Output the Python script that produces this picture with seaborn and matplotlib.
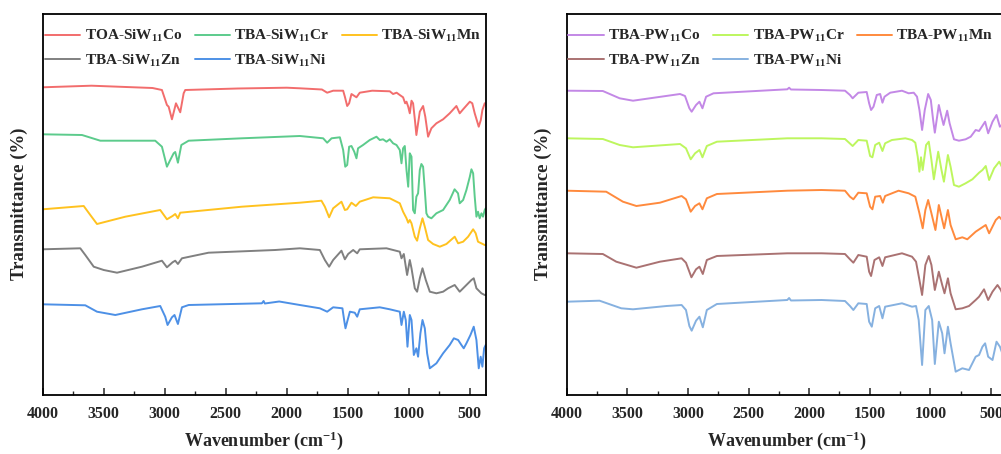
import matplotlib
matplotlib.use("Agg")
import matplotlib.pyplot as plt
from matplotlib.ticker import MultipleLocator
import seaborn as sns
import pandas as pd

# ---------------- data (wavenumber cm-1, transmittance a.u. incl. offset) ----------------
tick_values = [4000, 3500, 3000, 2500, 2000, 1500, 1000, 500]

sw_co = [(4000,307.7),(3600,309.3),(3100,307),(3023,305),(2982,290),(2968,288.3),(2941,275.7),(2908,291.7),(2873,282.7),(2845,301.7),(2832,305),(2400,306.5),(2000,307.3),(1893,306.7),(1712,305.5),(1669,302.3),(1620,304.3),(1538,304.3),(1524,298.3),(1505,289),(1489,291.7),(1470,301),(1429,297.7),(1402,302.3),(1300,304.3),(1156,303.7),(1129,301),(1100,302.3),(1074,300),(1047,297.7),(1030,291.7),(1019,293.3),(1005,288.3),(992,281.7),(978,294.3),(965,291.7),(950,275),(938,260),(924,271.7),(910,283.3),(883,289),(865,278.3),(842,258.3),(815,266.7),(774,271.7),(719,275.7),(665,281.7),(610,289),(583,281.7),(555,285.7),(500,293.3),(480,291.7),(460,281.7),(427,268.3),(410,275),(397,285),(378,291.7),(370,291.7)]
sw_cr = [(4000,260.7),(3678,260),(3528,254.3),(3078,254.3),(3023,248.3),(2982,228.3),(2955,235),(2927,241.7),(2914,243),(2892,232.3),(2864,250),(2804,254.3),(2368,256.7),(1893,259),(1702,256.7),(1669,252.3),(1633,256.7),(1565,257.7),(1538,245),(1521,228.3),(1505,230),(1489,248.3),(1470,249),(1447,243.3),(1429,236.7),(1416,246.7),(1375,250),(1320,255),(1265,258.3),(1238,255),(1211,255.7),(1183,253.3),(1156,255.7),(1129,251.7),(1101,250),(1074,245),(1060,231.7),(1047,246.7),(1033,249),(1019,225),(1005,208.3),(992,241.7),(978,238.3),(965,185),(951,181.7),(938,198.3),(924,201.7),(910,225),(897,231),(883,228.3),(869,205),(856,181.7),(842,178.3),(815,176.7),(774,181.7),(719,185),(665,195),(625,205.7),(597,201.7),(583,191.7),(555,195),(528,205),(500,218.3),(487,225.7),(473,221.7),(460,198.3),(446,178.3),(433,183.3),(419,176.7),(405,181.7),(392,178.3),(378,185),(370,186.7)]
sw_mn = [(4000,185.7),(3664,189),(3610,180),(3555,171),(3323,178.3),(3037,185),(2982,175.7),(2936,179),(2914,181),(2892,176.7),(2873,182.3),(2368,188.3),(1893,192.3),(1716,194.3),(1688,188.3),(1653,177.7),(1620,186.7),(1552,193.3),(1524,185),(1505,185.7),(1470,192.3),(1434,189),(1402,193.3),(1292,197.7),(1156,196.7),(1074,191.7),(1047,183.3),(1019,176.7),(1005,172.3),(992,175),(978,171.7),(951,158.3),(932,154.3),(910,166.7),(888,176.7),(869,168.3),(842,155),(801,151),(746,148.3),(692,151),(624,158.3),(596,151.7),(555,153.3),(514,158.3),(473,165.7),(452,161.7),(433,153.3),(378,150),(370,150)]
sw_zn = [(4000,145.7),(3692,146.7),(3651,140),(3582,128.3),(3500,125),(3391,122.3),(3187,128.3),(3023,134.3),(2982,127.7),(2936,132.7),(2914,134.3),(2892,131),(2859,136.7),(2641,142.3),(2095,145),(1893,146.7),(1729,145),(1688,135),(1653,128.3),(1620,135),(1552,144.3),(1524,135.7),(1497,141),(1456,145),(1423,141.7),(1402,145.7),(1183,146.7),(1074,143.3),(1060,136.7),(1041,141),(1014,120),(992,135),(978,126.7),(951,106.7),(932,103.3),(910,116.7),(888,126.7),(861,115),(828,103.3),(774,101.7),(719,103.3),(678,106.7),(624,110),(583,103.3),(542,108.3),(487,115),(468,116.7),(446,106.7),(405,101.7),(378,100),(370,100)]
sw_ni = [(4000,90.7),(3651,89.7),(3555,83.3),(3405,80),(3187,85.7),(3037,89),(2996,78.3),(2977,70),(2941,77.7),(2920,80),(2892,71),(2859,87.7),(2804,90),(2204,91.7),(2190,94),(2180,91.5),(2062,93.5),(1893,90),(1729,86.7),(1669,83.3),(1620,87.7),(1544,86.7),(1530,75),(1519,66.7),(1505,73.3),(1483,83.3),(1443,82.3),(1423,78.3),(1402,85.7),(1238,87.7),(1156,85.7),(1074,83.3),(1060,70),(1041,83.3),(1025,75),(1011,48.3),(992,80),(978,75),(959,40),(938,46.7),(924,38.3),(905,61.7),(888,75),(869,66.7),(850,41.7),(828,26.7),(774,31.7),(719,41.7),(665,50),(631,56.7),(596,55),(569,50),(550,46.7),(528,51.7),(495,60),(468,68.3),(446,55),(427,26.7),(411,38.3),(397,28.3),(383,46.7),(370,50)]

pw_co = [(4000,304.3),(3702,304),(3563,296.7),(3453,294.3),(3314,296.7),(3065,301),(3024,299),(2988,286.7),(2969,283.3),(2933,290),(2905,293.3),(2880,286.7),(2850,298.3),(2789,301.7),(2180,305.7),(2165,307.3),(2150,305.5),(1898,305),(1704,304.3),(1663,300),(1641,296.7),(1594,302.3),(1525,303),(1505,291.7),(1489,285),(1469,288.3),(1442,300),(1414,301),(1395,292.3),(1378,298.3),(1331,302.3),(1234,304.3),(1179,301.7),(1137,302.3),(1110,298.3),(1090,285),(1068,265),(1046,285),(1018,301),(996,295),(977,275),(963,262.3),(930,290),(908,278.3),(891,270),(861,284.3),(841,271.7),(805,255.7),(764,254.3),(709,255.7),(667,258.3),(626,265),(598,264),(548,273.3),(523,261.7),(487,273.3),(454,280),(426,268.3),(396,271.7),(370,270)]
pw_cr = [(4000,256.7),(3702,256),(3563,250),(3453,247.7),(3065,251),(3016,246.7),(2977,235.7),(2941,241.7),(2905,245),(2880,237.7),(2844,249),(2761,253.3),(2180,256.7),(1898,256.7),(1704,256),(1641,249),(1594,255),(1525,254.3),(1497,239),(1478,237.7),(1455,250),(1422,252.3),(1395,244),(1373,251.7),(1317,255),(1206,256.7),(1151,255),(1124,252.3),(1104,238.3),(1090,223.3),(1077,237.7),(1063,225),(1035,250),(1013,253.3),(991,235),(971,215.7),(935,243.3),(908,225),(888,213.3),(855,240),(833,228.3),(805,210),(764,208.3),(709,211.7),(653,215.7),(598,222.3),(570,225),(543,229),(515,215),(474,226.7),(432,233.3),(396,225),(370,222)]
pw_mn = [(4000,204.3),(3674,203.3),(3536,193.3),(3425,189),(3231,192.3),(3052,199),(3016,195.7),(2977,183.3),(2941,189),(2905,191.7),(2880,185.7),(2844,196.7),(2761,201),(2180,204.3),(1898,205),(1704,204.3),(1663,198.3),(1635,195.7),(1594,202.3),(1525,201.7),(1497,188.3),(1478,185.7),(1455,198.3),(1414,199),(1392,192.3),(1373,199),(1262,204.3),(1179,201.7),(1124,198.3),(1090,181.7),(1063,166.7),(1041,185),(1018,195),(991,181.7),(958,165),(930,190),(902,175),(886,166.7),(855,185),(833,170),(791,155.7),(736,157.7),(695,155.7),(626,163.3),(584,166.7),(543,170),(515,161.7),(460,175),(432,178.3),(396,173.3),(370,172)]
pw_zn = [(4000,141.7),(3702,141),(3591,133.3),(3425,127.3),(3231,133.3),(3052,136.7),(3016,132.3),(2971,117.7),(2933,125.7),(2905,128.3),(2877,121),(2844,135),(2761,139),(2180,141.7),(1898,141.7),(1704,141),(1663,135.7),(1635,132.3),(1594,140),(1525,138.3),(1505,123.3),(1489,119),(1461,135),(1422,137.7),(1395,129),(1373,137.7),(1234,141.7),(1151,138.3),(1118,133.3),(1090,115),(1068,100),(1041,130),(1013,139),(991,130),(963,105),(930,123.3),(902,110),(883,101.7),(855,116.7),(833,101.7),(791,85.7),(736,86.7),(681,89),(626,95),(598,98.3),(557,105.7),(523,95),(487,103.3),(446,110),(418,105),(396,98.3),(370,96)]
pw_ni = [(4000,93.3),(3729,94.3),(3550,86.7),(3453,85.7),(3176,89),(3052,90),(3016,85),(2988,69),(2969,64.3),(2933,74.3),(2905,78.3),(2877,67.7),(2844,85),(2761,91),(2180,95),(2165,97),(2150,94.5),(1898,95),(1704,94),(1663,89),(1635,85),(1594,91.7),(1525,91),(1505,73.3),(1483,68.3),(1455,86.7),(1422,89),(1395,76.7),(1373,88.3),(1234,91.7),(1151,88.3),(1118,89),(1096,75),(1068,30),(1041,85),(1013,89),(985,75),(963,31),(930,73.3),(902,61.7),(883,41.7),(855,68.3),(833,51.7),(791,23.3),(736,26.7),(681,25),(626,38.3),(598,40),(570,48.3),(548,51.7),(523,38.3),(487,35),(454,53.3),(426,48.3),(396,38.3),(370,36)]

left_labels = [r"TOA-SiW$_{11}$Co", r"TBA-SiW$_{11}$Cr", r"TBA-SiW$_{11}$Mn",
               r"TBA-SiW$_{11}$Zn", r"TBA-SiW$_{11}$Ni"]
right_labels = [r"TBA-PW$_{11}$Co", r"TBA-PW$_{11}$Cr", r"TBA-PW$_{11}$Mn",
                r"TBA-PW$_{11}$Zn", r"TBA-PW$_{11}$Ni"]
left_series = [sw_co, sw_cr, sw_mn, sw_zn, sw_ni]
right_series = [pw_co, pw_cr, pw_mn, pw_zn, pw_ni]
left_colors = ["#F26D6D", "#5CCB8C", "#FFC21F", "#808080", "#4D90E6"]
right_colors = ["#C388E6", "#BDF65E", "#FF8A3D", "#AA7272", "#86B1E0"]

# ---------------- style ----------------
sns.set_theme(style="ticks")
plt.rcParams["font.family"] = ["Liberation Serif", "DejaVu Serif"]
plt.rcParams["font.weight"] = "bold"
plt.rcParams["mathtext.fontset"] = "custom"
plt.rcParams["mathtext.rm"] = "Liberation Serif:bold"
plt.rcParams["mathtext.bf"] = "Liberation Serif:bold"
plt.rcParams["mathtext.it"] = "Liberation Serif:bold"
plt.rcParams["mathtext.default"] = "bf"

W, H = 1001, 454
fig = plt.figure(figsize=(W / 100, H / 100), dpi=100)
ax_top, ax_bot = 13.5, 395.0
axL = fig.add_axes([42.7 / W, (H - ax_bot) / H, 443 / W, (ax_bot - ax_top) / H])
axR = fig.add_axes([566.7 / W, (H - ax_bot) / H, 440 / W, (ax_bot - ax_top) / H])


def draw(ax, series, labels, colors, leg_x):
    for data, lab, col in zip(series, labels, colors):
        df = pd.DataFrame(data, columns=["wn", "T"])
        sns.lineplot(data=df, x="wn", y="T", ax=ax, color=col, label=lab,
                     linewidth=1.4, sort=False, estimator=None)
    ax.set_xlim(4000, 370)
    ax.set_ylim(0, 381.5)
    ax.set_xticks(tick_values)
    ax.xaxis.set_minor_locator(MultipleLocator(250))
    ax.set_yticks([])
    ax.tick_params(axis="x", which="major", direction="in", length=5, width=1.1,
                   labelsize=11.5, pad=8, top=False)
    ax.tick_params(axis="x", which="minor", direction="in", length=3, width=1.0, top=False)
    for lbl in ax.get_xticklabels():
        lbl.set_fontweight("bold")
    for s in ax.spines.values():
        s.set_linewidth(1.3)
        s.set_color("black")
    ax.set_xlabel(r"Wavenumber (cm$^{-1}$)", fontsize=13, fontweight="bold")
    ax.set_ylabel("Transmittance (%)", fontsize=13.5, fontweight="bold")
    ax.xaxis.set_label_coords(0.5, -0.09)
    ax.yaxis.set_label_coords(-0.034, 0.5)
    h, l = ax.get_legend_handles_labels()
    order = [0, 3, 1, 4, 2]
    ax.legend([h[i] for i in order], [l[i] for i in order], ncol=3, loc="upper left",
              bbox_to_anchor=(leg_x, 0.962), borderaxespad=0, borderpad=0,
              frameon=False, handlelength=2.3, handletextpad=0.3,
              columnspacing=0.8, labelspacing=0.55,
              prop={"family": "Liberation Serif", "weight": "bold", "size": 11})


draw(axL, left_series, left_labels, left_colors, 0.006)
draw(axR, right_series, right_labels, right_colors, 0.004)

fig.savefig("out.png", dpi=100)
